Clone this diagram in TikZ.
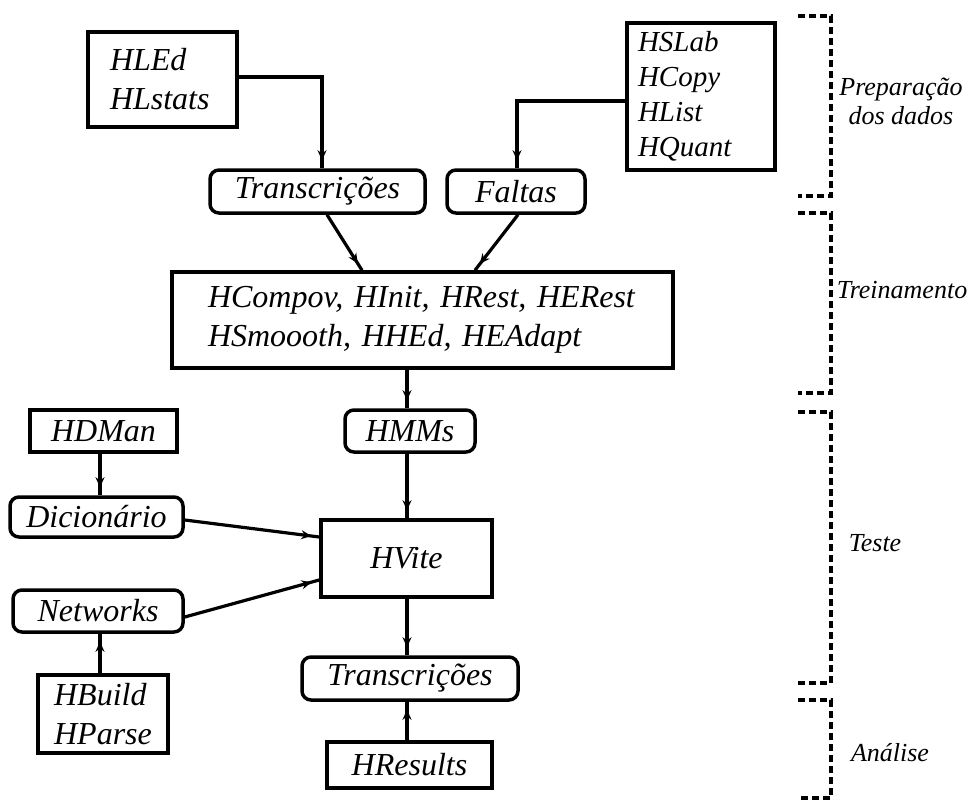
\documentclass[tikz,border=0pt]{standalone}
\usepackage{fontspec}
\setmainfont{Liberation Serif}
\usetikzlibrary{arrows.meta,decorations.markings}

\tikzset{
  box/.style={draw, line width=3.5pt, inner sep=0pt,
    font=\fontsize{32}{39}\selectfont\itshape},
  rbox/.style={box, rounded corners=9pt},
  link/.style={line width=3.2pt, postaction={decorate},
    decoration={markings,
      mark=at position -8pt with {\arrow{Stealth[length=10pt,width=9pt]}}}},
  phase/.style={line width=3.5pt, dash pattern=on 7pt off 4pt},
  phaselabel/.style={font=\fontsize{26}{29}\selectfont\itshape, align=center},
}

\begin{document}
\begin{tikzpicture}[x=1pt, y=-1pt]
\useasboundingbox (0,0) rectangle (967,800);

% data preparation tools and files
\node[box, minimum width=149pt, minimum height=95pt, text width=105pt, align=left]
  (hled) at (162.5,79.5) {HLEd\\HLstats};
\node[box, minimum width=148pt, minimum height=147pt, text width=126pt, align=left,
  font=\fontsize{29}{35}\selectfont\itshape]
  (hslab) at (701,96.5) {HSLab\\HCopy\\HList\\HQuant};
\node[rbox, minimum width=215pt, minimum height=43pt] (tr1) at (317.5,191.5) {Transcrições};
\node[rbox, minimum width=138pt, minimum height=43pt] (faltas) at (516,191.5) {Faltas};

% training
\node[box, minimum width=501pt, minimum height=96pt, text width=429pt, align=left]
  (big) at (422.5,320) {HCompov, HInit, HRest, HERest\\HSmoooth, HHEd, HEAdapt};

% testing
\node[rbox, minimum width=130pt, minimum height=42pt] (hmms) at (410,431) {HMMs};
\node[box, minimum width=147pt, minimum height=42pt] (hdman) at (103.5,431) {HDMan};
\node[rbox, minimum width=173pt, minimum height=40pt] (dic) at (96.5,517) {Dicionário};
\node[box, minimum width=171pt, minimum height=77pt] (hvite) at (406.5,558.5) {HVite};
\node[rbox, minimum width=170pt, minimum height=42pt] (net) at (98,611) {Networks};
\node[box, minimum width=130pt, minimum height=78pt, align=left] (hbuild) at (103,714) {HBuild\\HParse};

% analysis
\node[rbox, minimum width=216pt, minimum height=43pt] (tr2) at (410,678.5) {Transcrições};
\node[box, minimum width=165pt, minimum height=46pt] (hres) at (409.5,765) {HResults};

% connectors
\draw[link] ([yshift=2.5pt]hled.east) -| ([xshift=4.5pt]tr1.north);
\draw[link] ([yshift=-4.5pt]hslab.west) -| ([xshift=1pt]faltas.north);
\draw[link] ([xshift=9.5pt]tr1.south) -- ([xshift=-60.5pt]big.north);
\draw[link] ([xshift=2pt]faltas.south) -- ([xshift=52.5pt]big.north);
\draw[link] ([xshift=-15.5pt]big.south) -- ([xshift=-3pt]hmms.north);
\draw[link] ([xshift=-3pt]hmms.south) -- ([xshift=0.5pt]hvite.north);
\draw[link] ([xshift=-3.5pt]hdman.south) -- ([xshift=3.5pt]dic.north);
\draw[link] ([yshift=-3pt]dic.east) -- ([yshift=21.5pt]hvite.west);
\draw[link] ([yshift=-6pt]net.east) -- ([yshift=-21.5pt]hvite.west);
\draw[link] ([xshift=-3pt]hbuild.north) -- ([xshift=2pt]net.south);
\draw[link] ([xshift=0.5pt]hvite.south) -- ([xshift=-3pt]tr2.north);
\draw[link] ([xshift=-2.5pt]hres.north) -- ([xshift=-3pt]tr2.south);

% phase brackets
\draw[phase] (798,16) -- (831,16) -- (831,196) -- (798,196);
\draw[phase] (798,213) -- (831,213) -- (831,393) -- (798,393);
\draw[phase] (798,412) -- (831,412) -- (831,683) -- (798,683);
\draw[phase] (798,700) -- (831,700) -- (831,798) -- (798,798);

\node[phaselabel] (lprep) at (901,101) {Preparação\\dos dados};
\node[phaselabel] (ltrain) at (902,290) {Treinamento};
\node[phaselabel] (ltest) at (875,543) {Teste};
\node[phaselabel] (lanal) at (890,753) {Análise};
\end{tikzpicture}
\end{document}
